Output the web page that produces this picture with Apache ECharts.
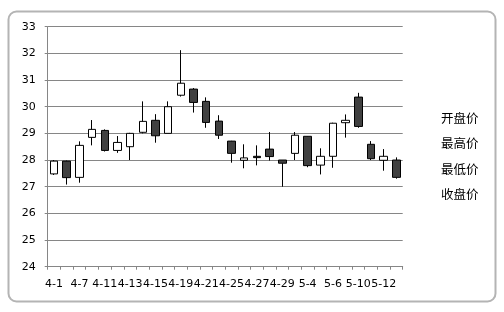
<!DOCTYPE html>
<html>
<head>
<meta charset="utf-8">
<script src="https://cdn.jsdelivr.net/npm/echarts@6/dist/echarts.min.js"></script>
<style>html,body{margin:0;padding:0;background:#fff}#c{width:504px;height:312px}</style>
</head>
<body>
<div id="c"></div>
<script>
var dates = ['4-1','4-6','4-7','4-8','4-11','4-12','4-13','4-14','4-15','4-18','4-19','4-20','4-21','4-22','4-25','4-26','4-27','4-28','4-29','5-3','5-4','5-5','5-6','5-9','5-10','5-11','5-12','5-13'];
var openPrice  = [27.48,27.96,27.35,28.85,29.11,28.36,28.50,29.04,29.49,29.00,30.43,30.66,30.20,29.46,28.71,27.99,28.14,28.41,28.00,28.25,28.89,27.81,28.14,29.40,30.36,28.59,27.99,28.00];
var highPrice  = [28.00,27.98,28.70,29.50,29.15,28.90,29.02,30.20,29.72,30.20,32.12,30.70,30.35,29.68,28.72,28.59,28.55,29.05,28.00,29.05,28.90,28.44,29.40,29.71,30.52,28.71,28.41,28.10];
var lowPrice   = [27.44,27.08,27.15,28.55,28.32,28.27,28.00,29.00,28.65,29.00,30.38,29.78,29.21,28.79,27.90,27.69,27.80,27.98,27.00,28.00,27.73,27.46,27.71,28.84,29.21,28.00,27.60,27.30];
var closePrice = [27.96,27.34,28.55,29.15,28.36,28.66,29.00,29.45,28.91,30.00,30.88,30.16,29.41,28.93,28.25,28.08,28.09,28.13,27.88,28.93,27.79,28.14,29.38,29.49,29.26,28.05,28.14,27.35];
var seriesNames = ['开盘价','最高价','最低价','收盘价'];
var yTicks = [24,25,26,27,28,29,30,31,32,33];

var candleData = dates.map(function(d,i){ return [openPrice[i], closePrice[i], lowPrice[i], highPrice[i]]; });

var chart = echarts.init(document.getElementById('c'), null, {renderer:'canvas'});
var font = 'DejaVu Sans';
var series = [{
  type:'candlestick',
  name:'K',
  data:candleData,
  barWidth:8,
  itemStyle:{color:'#ffffff',color0:'#404040',borderColor:'#000000',borderColor0:'#000000',borderWidth:1}
}];
seriesNames.forEach(function(n){ series.push({type:'line',name:n,data:[],symbol:'none'}); });

chart.setOption({
  animation:false,
  backgroundColor:'#ffffff',
  graphic:[{type:'rect',shape:{x:8.5,y:11.5,width:487,height:290,r:8},style:{fill:'none',stroke:'#b4b4b4',lineWidth:2},z:-1}],
  grid:{left:47.7,right:101.3,top:26.7,bottom:45.3},
  legend:{
    data:seriesNames, orient:'vertical', left:431, top:107,
    icon:'rect', itemWidth:0, itemHeight:12, itemGap:12.8,
    textStyle:{fontFamily:'Noto Sans CJK SC',fontSize:12.5,color:'#000'},
    selectedMode:false
  },
  xAxis:{
    type:'category', data:dates, boundaryGap:true,
    axisLine:{lineStyle:{color:'#868686',width:1}},
    axisTick:{show:true,interval:0,length:3,lineStyle:{color:'#868686'}},
    axisLabel:{interval:1,fontFamily:font,fontSize:11,color:'#000',margin:12},
    splitLine:{show:false}
  },
  yAxis:{
    type:'value', min:yTicks[0], max:yTicks[yTicks.length-1], interval:1,
    axisLine:{show:true,lineStyle:{color:'#868686',width:1}},
    axisTick:{show:true,length:3,lineStyle:{color:'#868686'}},
    axisLabel:{fontFamily:font,fontSize:11,color:'#000',margin:12},
    splitLine:{show:true,lineStyle:{color:'#868686',width:1}}
  },
  series:series
});
</script>
</body>
</html>
